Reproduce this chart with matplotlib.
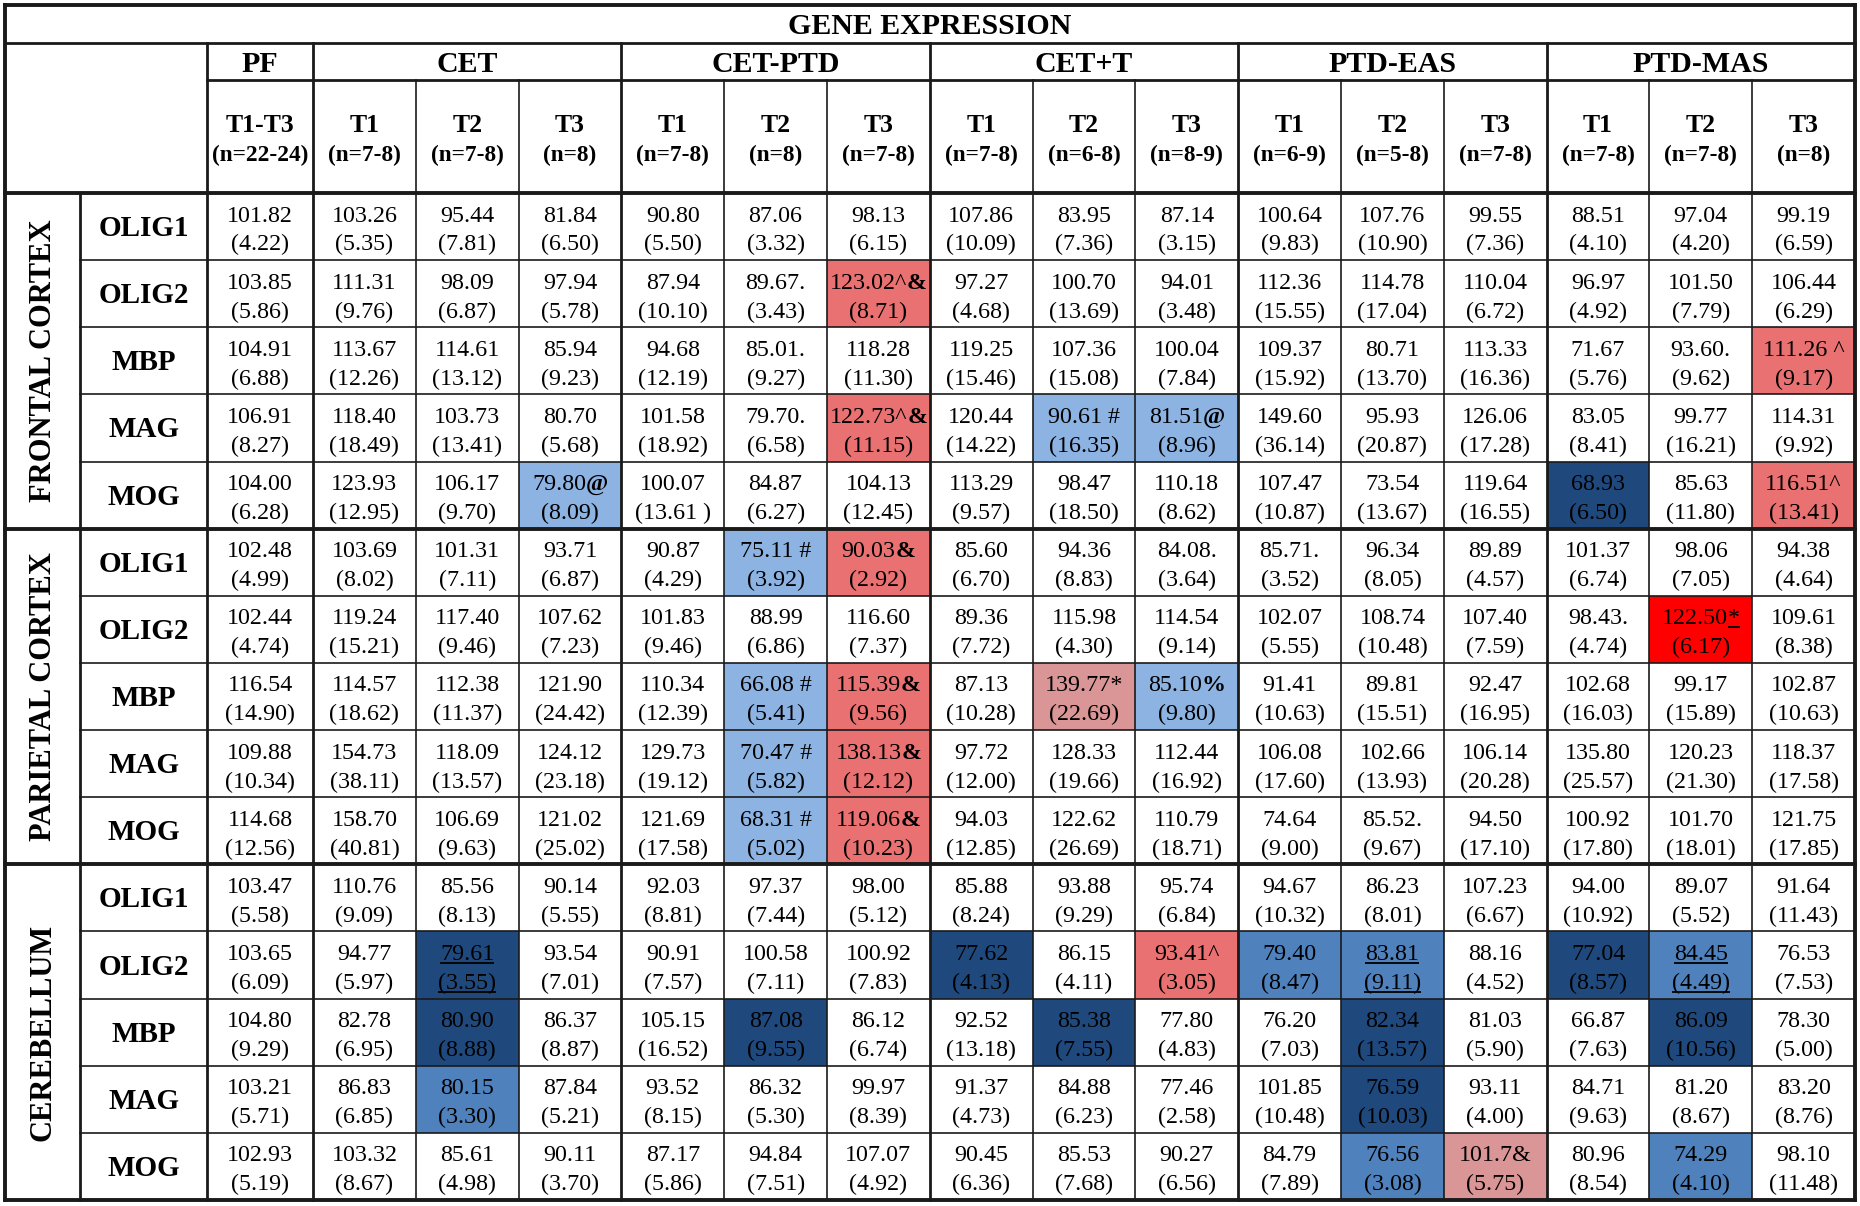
import re
import matplotlib
matplotlib.use("Agg")
import matplotlib.pyplot as plt
from matplotlib.patches import Rectangle

# ---------------- data ----------------
title = "GENE EXPRESSION"
regions = ["FRONTAL CORTEX", "PARIETAL CORTEX", "CEREBELLUM"]
genes = ["OLIG1", "OLIG2", "MBP", "MAG", "MOG"]
groups = ["PF", "CET", "CET-PTD", "CET+T", "PTD-EAS", "PTD-MAS"]
group_span = [1, 3, 3, 3, 3, 3]
sub_labels = ["T1-T3", "T1", "T2", "T3", "T1", "T2", "T3", "T1", "T2", "T3",
              "T1", "T2", "T3", "T1", "T2", "T3"]
n_labels = ["(n=22-24)", "(n=7-8)", "(n=7-8)", "(n=8)",
            "(n=7-8)", "(n=8)", "(n=7-8)",
            "(n=7-8)", "(n=6-8)", "(n=8-9)",
            "(n=6-9)", "(n=5-8)", "(n=7-8)",
            "(n=7-8)", "(n=7-8)", "(n=8)"]

# [x] = bold symbol, <x> = underlined symbol
frontal_mean = [
    ["101.82", "103.26", "95.44", "81.84", "90.80", "87.06", "98.13", "107.86", "83.95", "87.14", "100.64", "107.76", "99.55", "88.51", "97.04", "99.19"],
    ["103.85", "111.31", "98.09", "97.94", "87.94", "89.67.", "123.02^[&]", "97.27", "100.70", "94.01", "112.36", "114.78", "110.04", "96.97", "101.50", "106.44"],
    ["104.91", "113.67", "114.61", "85.94", "94.68", "85.01.", "118.28", "119.25", "107.36", "100.04", "109.37", "80.71", "113.33", "71.67", "93.60.", "111.26 ^"],
    ["106.91", "118.40", "103.73", "80.70", "101.58", "79.70.", "122.73^[&]", "120.44", "90.61 #", "81.51[@]", "149.60", "95.93", "126.06", "83.05", "99.77", "114.31"],
    ["104.00", "123.93", "106.17", "79.80[@]", "100.07", "84.87", "104.13", "113.29", "98.47", "110.18", "107.47", "73.54", "119.64", "68.93", "85.63", "116.51^"],
]
frontal_sem = [
    ["4.22", "5.35", "7.81", "6.50", "5.50", "3.32", "6.15", "10.09", "7.36", "3.15", "9.83", "10.90", "7.36", "4.10", "4.20", "6.59"],
    ["5.86", "9.76", "6.87", "5.78", "10.10", "3.43", "8.71", "4.68", "13.69", "3.48", "15.55", "17.04", "6.72", "4.92", "7.79", "6.29"],
    ["6.88", "12.26", "13.12", "9.23", "12.19", "9.27", "11.30", "15.46", "15.08", "7.84", "15.92", "13.70", "16.36", "5.76", "9.62", "9.17"],
    ["8.27", "18.49", "13.41", "5.68", "18.92", "6.58", "11.15", "14.22", "16.35", "8.96", "36.14", "20.87", "17.28", "8.41", "16.21", "9.92"],
    ["6.28", "12.95", "9.70", "8.09", "13.61 ", "6.27", "12.45", "9.57", "18.50", "8.62", "10.87", "13.67", "16.55", "6.50", "11.80", "13.41"],
]
parietal_mean = [
    ["102.48", "103.69", "101.31", "93.71", "90.87", "75.11 #", "90.03[&]", "85.60", "94.36", "84.08.", "85.71.", "96.34", "89.89", "101.37", "98.06", "94.38"],
    ["102.44", "119.24", "117.40", "107.62", "101.83", "88.99", "116.60", "89.36", "115.98", "114.54", "102.07", "108.74", "107.40", "98.43.", "122.50<*>", "109.61"],
    ["116.54", "114.57", "112.38", "121.90", "110.34", "66.08 #", "115.39[&]", "87.13", "139.77*", "85.10[%]", "91.41", "89.81", "92.47", "102.68", "99.17", "102.87"],
    ["109.88", "154.73", "118.09", "124.12", "129.73", "70.47 #", "138.13[&]", "97.72", "128.33", "112.44", "106.08", "102.66", "106.14", "135.80", "120.23", "118.37"],
    ["114.68", "158.70", "106.69", "121.02", "121.69", "68.31 #", "119.06[&]", "94.03", "122.62", "110.79", "74.64", "85.52.", "94.50", "100.92", "101.70", "121.75"],
]
parietal_sem = [
    ["4.99", "8.02", "7.11", "6.87", "4.29", "3.92", "2.92", "6.70", "8.83", "3.64", "3.52", "8.05", "4.57", "6.74", "7.05", "4.64"],
    ["4.74", "15.21", "9.46", "7.23", "9.46", "6.86", "7.37", "7.72", "4.30", "9.14", "5.55", "10.48", "7.59", "4.74", "6.17", "8.38"],
    ["14.90", "18.62", "11.37", "24.42", "12.39", "5.41", "9.56", "10.28", "22.69", "9.80", "10.63", "15.51", "16.95", "16.03", "15.89", "10.63"],
    ["10.34", "38.11", "13.57", "23.18", "19.12", "5.82", "12.12", "12.00", "19.66", "16.92", "17.60", "13.93", "20.28", "25.57", "21.30", "17.58"],
    ["12.56", "40.81", "9.63", "25.02", "17.58", "5.02", "10.23", "12.85", "26.69", "18.71", "9.00", "9.67", "17.10", "17.80", "18.01", "17.85"],
]
cerebellum_mean = [
    ["103.47", "110.76", "85.56", "90.14", "92.03", "97.37", "98.00", "85.88", "93.88", "95.74", "94.67", "86.23", "107.23", "94.00", "89.07", "91.64"],
    ["103.65", "94.77", "79.61", "93.54", "90.91", "100.58", "100.92", "77.62", "86.15", "93.41^", "79.40", "83.81", "88.16", "77.04", "84.45", "76.53"],
    ["104.80", "82.78", "80.90", "86.37", "105.15", "87.08", "86.12", "92.52", "85.38", "77.80", "76.20", "82.34", "81.03", "66.87", "86.09", "78.30"],
    ["103.21", "86.83", "80.15", "87.84", "93.52", "86.32", "99.97", "91.37", "84.88", "77.46", "101.85", "76.59", "93.11", "84.71", "81.20", "83.20"],
    ["102.93", "103.32", "85.61", "90.11", "87.17", "94.84", "107.07", "90.45", "85.53", "90.27", "84.79", "76.56", "101.7&", "80.96", "74.29", "98.10"],
]
cerebellum_sem = [
    ["5.58", "9.09", "8.13", "5.55", "8.81", "7.44", "5.12", "8.24", "9.29", "6.84", "10.32", "8.01", "6.67", "10.92", "5.52", "11.43"],
    ["6.09", "5.97", "3.55", "7.01", "7.57", "7.11", "7.83", "4.13", "4.11", "3.05", "8.47", "9.11", "4.52", "8.57", "4.49", "7.53"],
    ["9.29", "6.95", "8.88", "8.87", "16.52", "9.55", "6.74", "13.18", "7.55", "4.83", "7.03", "13.57", "5.90", "7.63", "10.56", "5.00"],
    ["5.71", "6.85", "3.30", "5.21", "8.15", "5.30", "8.39", "4.73", "6.23", "2.58", "10.48", "10.03", "4.00", "9.63", "8.67", "8.76"],
    ["5.19", "8.67", "4.98", "3.70", "5.86", "7.51", "4.92", "6.36", "7.68", "6.56", "7.89", "3.08", "5.75", "8.54", "4.10", "11.48"],
]

# highlight codes: r=red, p=pink, R=bright red, b=light blue, m=mid blue, n=navy
frontal_hl = [
    "", "......r.........", "...............r", "......r.bb......", "...b.........n.r",
]
parietal_hl = [
    ".....br.........", "..............R.", ".....br.pb......", ".....br.........", ".....br.........",
]
cerebellum_hl = [
    "", "..n....n.rmm.nm.", "..n..n..n..n..n.", "..m........n....", "...........mp.m.",
]
# cells whose both lines are underlined (region, gene, column)
underlined_cells = [(2, 1, 2), (2, 1, 11), (2, 1, 14)]

# ---------------- style ----------------
FONT = ["Liberation Serif", "DejaVu Serif"]
COLORS = {"r": "#EA7171", "p": "#DA9696", "R": "#FF0000",
          "b": "#8DB3E2", "m": "#4F81BD", "n": "#1F497D"}
W, H = 1860, 1206
X0, X_REG, X_GENE, X_PF, X1 = 5, 80, 207, 313, 1855
Y0, Y_TITLE, Y_GRP, Y_HEAD, Y1 = 5, 43, 80, 193, 1200
col_w = (X1 - X_PF) / 15
col_edges = [X_GENE, X_PF] + [X_PF + col_w * (i + 1) for i in range(15)]
row_h = (Y1 - Y_HEAD) / 15
row_edges = [Y_HEAD + row_h * i for i in range(16)]
LC = "#1a1a1a"

fig = plt.figure(figsize=(W / 100, H / 100), dpi=100)
ax = fig.add_axes([0, 0, 1, 1])
ax.set_xlim(0, W)
ax.set_ylim(H, 0)
ax.axis("off")
renderer = fig.canvas.get_renderer()


def text_width(s, size, weight):
    t = ax.text(0, 0, s, fontsize=size, fontweight=weight, family=FONT)
    w = t.get_window_extent(renderer).width
    t.remove()
    return w


def parse_runs(s):
    runs = []
    for m in re.finditer(r"\[([^\]]*)\]|<([^>]*)>|([^\[<]+)", s):
        if m.group(1) is not None:
            runs.append((m.group(1), "bold", False))
        elif m.group(2) is not None:
            runs.append((m.group(2), "normal", True))
        else:
            runs.append((m.group(3), "normal", False))
    return runs


def draw_runs(xc, yb, s, size, underline_all=False):
    runs = parse_runs(s)
    widths = [text_width(r[0], size, r[1]) for r in runs]
    total = sum(widths)
    x = xc - total / 2
    for (txt, wt, ul), w in zip(runs, widths):
        ax.text(x, yb, txt, fontsize=size, fontweight=wt, family=FONT,
                ha="left", va="baseline", color="black")
        if ul or underline_all:
            ax.plot([x, x + w], [yb + 3, yb + 3], color="black", lw=1.3,
                    solid_capstyle="butt")
        x += w


# ---------------- cell fills ----------------
region_means = [frontal_mean, parietal_mean, cerebellum_mean]
region_sems = [frontal_sem, parietal_sem, cerebellum_sem]
region_hl = [frontal_hl, parietal_hl, cerebellum_hl]

for ri in range(3):
    for gi in range(5):
        r = ri * 5 + gi
        codes = region_hl[ri][gi]
        for ci, code in enumerate(codes):
            if code in COLORS:
                ax.add_patch(Rectangle((col_edges[ci], row_edges[r]),
                                       col_edges[ci + 1] - col_edges[ci], row_h,
                                       facecolor=COLORS[code], edgecolor="none", zorder=0))

# ---------------- texts ----------------
ax.text((X0 + X1) / 2, (Y0 + Y_TITLE) / 2 + 3, title, fontsize=21.5, fontweight="bold",
        family=FONT, ha="center", va="center")

gstart = 0
for g, span in zip(groups, group_span):
    xa, xb = col_edges[gstart], col_edges[gstart + span]
    ax.text((xa + xb) / 2, (Y_TITLE + Y_GRP) / 2 + 3, g, fontsize=21.5, fontweight="bold",
            family=FONT, ha="center", va="center")
    gstart += span

for ci in range(16):
    xc = (col_edges[ci] + col_edges[ci + 1]) / 2
    ax.text(xc, 125, sub_labels[ci], fontsize=18.5, fontweight="bold", family=FONT,
            ha="center", va="center")
    ax.text(xc, 155, n_labels[ci], fontsize=16.8, fontweight="bold", family=FONT,
            ha="center", va="center")

for ri, reg in enumerate(regions):
    ya, yb = row_edges[ri * 5], row_edges[ri * 5 + 5]
    ax.text((X0 + X_REG) / 2 + 1, (ya + yb) / 2, reg, fontsize=22, fontweight="bold",
            family=FONT, rotation=90, ha="center", va="center")
    for gi, gene in enumerate(genes):
        r = ri * 5 + gi
        top = row_edges[r]
        ax.text((X_REG + X_GENE) / 2, top + row_h * 0.53, gene, fontsize=21,
                fontweight="bold", family=FONT, ha="center", va="center")
        for ci in range(16):
            xc = (col_edges[ci] + col_edges[ci + 1]) / 2
            ul = (ri, gi, ci) in underlined_cells
            draw_runs(xc, top + 28.5, region_means[ri][gi][ci], 17.3, ul)
            draw_runs(xc, top + 57.5, "(" + region_sems[ri][gi][ci] + ")", 17.3, ul)

# ---------------- grid lines ----------------
def hline(y, xa, xb, lw):
    ax.plot([xa, xb], [y, y], color=LC, lw=lw, solid_capstyle="projecting", zorder=5)


def vline(x, ya, yb, lw):
    ax.plot([x, x], [ya, yb], color=LC, lw=lw, solid_capstyle="projecting", zorder=5)


THIN, MED, THICK = 1.2, 2.0, 2.8
# outer
hline(Y0, X0, X1, THICK)
hline(Y1, X0, X1, THICK)
vline(X0, Y0, Y1, THICK)
vline(X1, Y0, Y1, THICK)
hline(Y_TITLE, X0, X1, MED)
hline(Y_GRP, X_GENE, X1, MED)
hline(Y_HEAD, X0, X1, THICK)
for ri in range(1, 3):
    hline(row_edges[ri * 5], X0, X1, THICK)
for r in range(15):
    if r % 5 != 0:
        hline(row_edges[r], X_REG, X1, THIN)
vline(X_REG, Y_HEAD, Y1, MED)
vline(X_GENE, Y_TITLE, Y1, MED)
bounds = set()
acc = 0
for span in group_span:
    acc += span
    bounds.add(acc)
for ci in range(1, 16):
    if ci in bounds:
        vline(col_edges[ci], Y_TITLE, Y1, MED)
    else:
        vline(col_edges[ci], Y_GRP, Y1, THIN)

fig.savefig("out.png", dpi=100, facecolor="white")
